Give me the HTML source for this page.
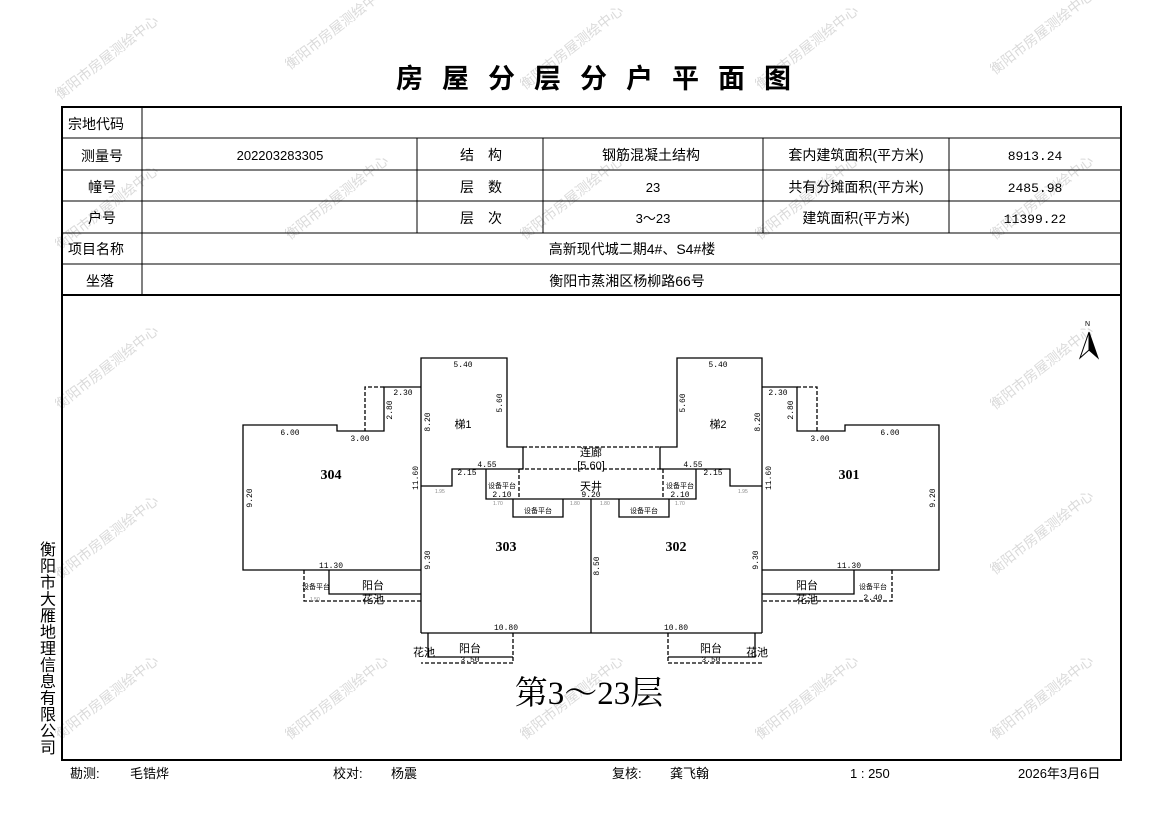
<!DOCTYPE html>
<html><head><meta charset="utf-8"><style>
html,body{margin:0;padding:0;background:#fff;}
svg{display:block;font-family:"Liberation Sans","Noto Sans CJK SC",sans-serif;}
.wm text{fill:#dadada;font-size:14px;}
.d text,text.d{font-family:"Liberation Mono","Noto Sans CJK SC",monospace;font-size:8px;}
.s text{font-size:5px;fill:#888;}
.l text{font-size:11px;}
</style></head><body>
<svg width="1169" height="827" viewBox="0 0 1169 827" xmlns="http://www.w3.org/2000/svg">
<g class="wm">
<text transform="translate(60,410) rotate(-38)">衡阳市房屋测绘中心</text>
<text transform="translate(60,580) rotate(-38)">衡阳市房屋测绘中心</text>
<text transform="translate(60,740) rotate(-38)">衡阳市房屋测绘中心</text>
<text transform="translate(60,100) rotate(-38)">衡阳市房屋测绘中心</text>
<text transform="translate(60,250) rotate(-38)">衡阳市房屋测绘中心</text>
<text transform="translate(290,70) rotate(-38)">衡阳市房屋测绘中心</text>
<text transform="translate(290,240) rotate(-38)">衡阳市房屋测绘中心</text>
<text transform="translate(290,740) rotate(-38)">衡阳市房屋测绘中心</text>
<text transform="translate(525,90) rotate(-38)">衡阳市房屋测绘中心</text>
<text transform="translate(525,240) rotate(-38)">衡阳市房屋测绘中心</text>
<text transform="translate(525,740) rotate(-38)">衡阳市房屋测绘中心</text>
<text transform="translate(760,90) rotate(-38)">衡阳市房屋测绘中心</text>
<text transform="translate(760,240) rotate(-38)">衡阳市房屋测绘中心</text>
<text transform="translate(760,740) rotate(-38)">衡阳市房屋测绘中心</text>
<text transform="translate(995,75) rotate(-38)">衡阳市房屋测绘中心</text>
<text transform="translate(995,240) rotate(-38)">衡阳市房屋测绘中心</text>
<text transform="translate(995,410) rotate(-38)">衡阳市房屋测绘中心</text>
<text transform="translate(995,575) rotate(-38)">衡阳市房屋测绘中心</text>
<text transform="translate(995,740) rotate(-38)">衡阳市房屋测绘中心</text>
</g>
<text x="396" y="88" font-size="27" font-weight="bold" letter-spacing="19">房屋分层分户平面图</text>
<g stroke="#000" fill="none">
<rect x="62" y="107" width="1059" height="653" stroke-width="2"/>
<line x1="62" y1="295" x2="1121" y2="295" stroke-width="2"/>
<g stroke-width="1">
<line x1="62" y1="138" x2="1121" y2="138"/><line x1="62" y1="170" x2="1121" y2="170"/>
<line x1="62" y1="201" x2="1121" y2="201"/><line x1="62" y1="233" x2="1121" y2="233"/>
<line x1="62" y1="264" x2="1121" y2="264"/>
<line x1="142" y1="107" x2="142" y2="295"/>
<line x1="417" y1="138" x2="417" y2="233"/><line x1="543" y1="138" x2="543" y2="233"/>
<line x1="763" y1="138" x2="763" y2="233"/><line x1="949" y1="138" x2="949" y2="233"/>
</g></g>
<g font-size="14">
<text x="68" y="129">宗地代码</text>
<text x="102" y="161" text-anchor="middle">测量号</text>
<text x="102" y="192" text-anchor="middle">幢号</text>
<text x="102" y="223" text-anchor="middle">户号</text>
<text x="68" y="254">项目名称</text>
<text x="100" y="286" text-anchor="middle">坐落</text>
<text x="280" y="160" text-anchor="middle" font-size="13">202203283305</text>
<text x="481" y="160" text-anchor="middle">结　构</text>
<text x="481" y="192" text-anchor="middle">层　数</text>
<text x="481" y="223" text-anchor="middle">层　次</text>
<text x="651" y="160" text-anchor="middle">钢筋混凝土结构</text>
<text x="653" y="192" text-anchor="middle" font-size="13">23</text>
<text x="653" y="223" text-anchor="middle" font-size="13">3～23</text>
<text x="856" y="160" text-anchor="middle">套内建筑面积(平方米)</text>
<text x="856" y="192" text-anchor="middle">共有分摊面积(平方米)</text>
<text x="856" y="223" text-anchor="middle">建筑面积(平方米)</text>
<text x="1035" y="160" text-anchor="middle" font-size="13" style="font-family:'Liberation Mono',monospace">8913.24</text>
<text x="1035" y="192" text-anchor="middle" font-size="13" style="font-family:'Liberation Mono',monospace">2485.98</text>
<text x="1035" y="223" text-anchor="middle" font-size="13" style="font-family:'Liberation Mono',monospace">11399.22</text>
<text x="632" y="254" text-anchor="middle">高新现代城二期4#、S4#楼</text>
<text x="627" y="286" text-anchor="middle">衡阳市蒸湘区杨柳路66号</text>
</g>
<g font-size="16">
<text x="40" y="555">衡</text><text x="40" y="571.5">阳</text><text x="40" y="588">市</text><text x="40" y="604.5">大</text>
<text x="40" y="621">雁</text><text x="40" y="637.5">地</text><text x="40" y="654">理</text><text x="40" y="670.5">信</text>
<text x="40" y="687">息</text><text x="40" y="703.5">有</text><text x="40" y="720">限</text><text x="40" y="736.5">公</text>
<text x="40" y="753">司</text>
</g>
<g font-size="13">
<text x="70" y="778">勘测:</text><text x="130" y="778">毛锆烨</text>
<text x="333" y="778">校对:</text><text x="391" y="778">杨震</text>
<text x="612" y="778">复核:</text><text x="670" y="778">龚飞翰</text>
<text x="850" y="778">1 : 250</text><text x="1018" y="778">2026年3月6日</text>
</g>
<text x="1085" y="326" font-size="7">N</text>
<polygon points="1089,332 1080,358 1089,350" fill="#fff" stroke="#000" stroke-width="1"/>
<polygon points="1089,332 1098,358 1089,350" fill="#000" stroke="#000" stroke-width="1"/>
<g stroke="#000" stroke-width="1.3" fill="none">
<polyline points="421,387 384,387 384,431 337,431 337,425 243,425 243,570 421,570"/>
<polyline points="384,387 365,387 365,431" stroke-dasharray="4,2"/>
<polyline points="421,633 421,358 507,358 507,447 523,447 523,469 452,469 452,486 421,486"/>
<line x1="523" y1="447" x2="660" y2="447" stroke-dasharray="4,2"/>
<line x1="519" y1="469" x2="663" y2="469" stroke-dasharray="4,2"/>
<polyline points="486,469 486,499 519,499"/>
<line x1="519" y1="469" x2="519" y2="499" stroke-dasharray="4,2"/>
<polyline points="513,499 513,517 563,517 563,499"/>
<line x1="519" y1="499" x2="663" y2="499"/>
<line x1="591" y1="499" x2="591" y2="633"/>
<polyline points="762,633 762,358 677,358 677,447 660,447 660,469 730,469 730,486 762,486"/>
<polyline points="696,469 696,499 663,499"/>
<line x1="663" y1="469" x2="663" y2="499" stroke-dasharray="4,2"/>
<polyline points="619,499 619,517 669,517 669,499"/>
<polyline points="762,387 797,387 797,431 845,431 845,425 939,425 939,570 762,570"/>
<polyline points="797,387 817,387 817,431" stroke-dasharray="4,2"/>
<line x1="421" y1="633" x2="762" y2="633"/>
<polyline points="329,570 329,594 421,594"/>
<polyline points="304,570 304,601 421,601" stroke-dasharray="4,2"/>
<polyline points="854,570 854,594 762,594"/>
<polyline points="892,570 892,601 762,601" stroke-dasharray="4,2"/>
<polyline points="428,633 428,657 513,657"/>
<polyline points="513,633 513,663 421,663" stroke-dasharray="4,2"/>
<polyline points="755,633 755,657 668,657"/>
<polyline points="668,633 668,663 762,663" stroke-dasharray="4,2"/>
</g>
<g font-weight="bold" font-size="14" style="font-family:'Liberation Serif',serif">
<text x="331" y="479" text-anchor="middle">304</text>
<text x="506" y="551" text-anchor="middle">303</text>
<text x="676" y="551" text-anchor="middle">302</text>
<text x="849" y="479" text-anchor="middle">301</text>
</g>
<g class="l">
<text x="463" y="428" text-anchor="middle">梯1</text>
<text x="718" y="428" text-anchor="middle">梯2</text>
<text x="591" y="456" text-anchor="middle">连廊</text>
<text x="591" y="469" text-anchor="middle">[5.60]</text>
<text x="591" y="490" text-anchor="middle">天井</text>
<text x="373" y="589" text-anchor="middle">阳台</text>
<text x="373" y="603" text-anchor="middle">花池</text>
<text x="807" y="589" text-anchor="middle">阳台</text>
<text x="807" y="603" text-anchor="middle">花池</text>
<text x="470" y="652" text-anchor="middle">阳台</text>
<text x="711" y="652" text-anchor="middle">阳台</text>
<text x="424" y="656" text-anchor="middle">花池</text>
<text x="757" y="656" text-anchor="middle">花池</text>
</g>
<g style="font-size:7px">
<text x="316" y="589" text-anchor="middle">设备平台</text>
<text x="873" y="589" text-anchor="middle">设备平台</text>
<text x="502" y="488" text-anchor="middle">设备平台</text>
<text x="538" y="513" text-anchor="middle">设备平台</text>
<text x="680" y="488" text-anchor="middle">设备平台</text>
<text x="644" y="513" text-anchor="middle">设备平台</text>
</g>
<g class="d">
<text x="463" y="367" text-anchor="middle">5.40</text>
<text x="718" y="367" text-anchor="middle">5.40</text>
<text x="290" y="435" text-anchor="middle">6.00</text>
<text x="360" y="441" text-anchor="middle">3.00</text>
<text x="403" y="395" text-anchor="middle">2.30</text>
<text x="820" y="441" text-anchor="middle">3.00</text>
<text x="890" y="435" text-anchor="middle">6.00</text>
<text x="778" y="395" text-anchor="middle">2.30</text>
<text x="487" y="467" text-anchor="middle">4.55</text>
<text x="693" y="467" text-anchor="middle">4.55</text>
<text x="467" y="475" text-anchor="middle">2.15</text>
<text x="713" y="475" text-anchor="middle">2.15</text>
<text x="502" y="497" text-anchor="middle">2.10</text>
<text x="680" y="497" text-anchor="middle">2.10</text>
<text x="591" y="497" text-anchor="middle">9.20</text>
<text x="331" y="568" text-anchor="middle">11.30</text>
<text x="849" y="568" text-anchor="middle">11.30</text>
<text x="506" y="630" text-anchor="middle">10.80</text>
<text x="676" y="630" text-anchor="middle">10.80</text>
<text x="470" y="662" text-anchor="middle">3.50</text>
<text x="711" y="662" text-anchor="middle">3.50</text>
<text x="873" y="600" text-anchor="middle">2.40</text>
<text transform="translate(252,498) rotate(-90)" text-anchor="middle">9.20</text>
<text transform="translate(935,498) rotate(-90)" text-anchor="middle">9.20</text>
<text transform="translate(430,422) rotate(-90)" text-anchor="middle">8.20</text>
<text transform="translate(760,422) rotate(-90)" text-anchor="middle">8.20</text>
<text transform="translate(502,403) rotate(-90)" text-anchor="middle">5.60</text>
<text transform="translate(685,403) rotate(-90)" text-anchor="middle">5.60</text>
<text transform="translate(418,478) rotate(-90)" text-anchor="middle">11.60</text>
<text transform="translate(771,478) rotate(-90)" text-anchor="middle">11.60</text>
<text transform="translate(430,560) rotate(-90)" text-anchor="middle">9.30</text>
<text transform="translate(758,560) rotate(-90)" text-anchor="middle">9.30</text>
<text transform="translate(599,566) rotate(-90)" text-anchor="middle">8.50</text>
<text transform="translate(392,410) rotate(-90)" text-anchor="middle">2.80</text>
<text transform="translate(793,410) rotate(-90)" text-anchor="middle">2.80</text>
</g>
<g class="s">
<text x="435" y="493">1.95</text><text x="738" y="493">1.95</text>
<text x="493" y="505">1.70</text><text x="675" y="505">1.70</text>
<text x="570" y="505">1.80</text><text x="600" y="505">1.80</text>
<text x="310" y="601">1.50</text>
</g>
<text x="589" y="704" text-anchor="middle" font-size="33" style="font-family:'Liberation Serif','Noto Serif CJK SC',serif">第3～23层</text>
</svg>
</body></html>
